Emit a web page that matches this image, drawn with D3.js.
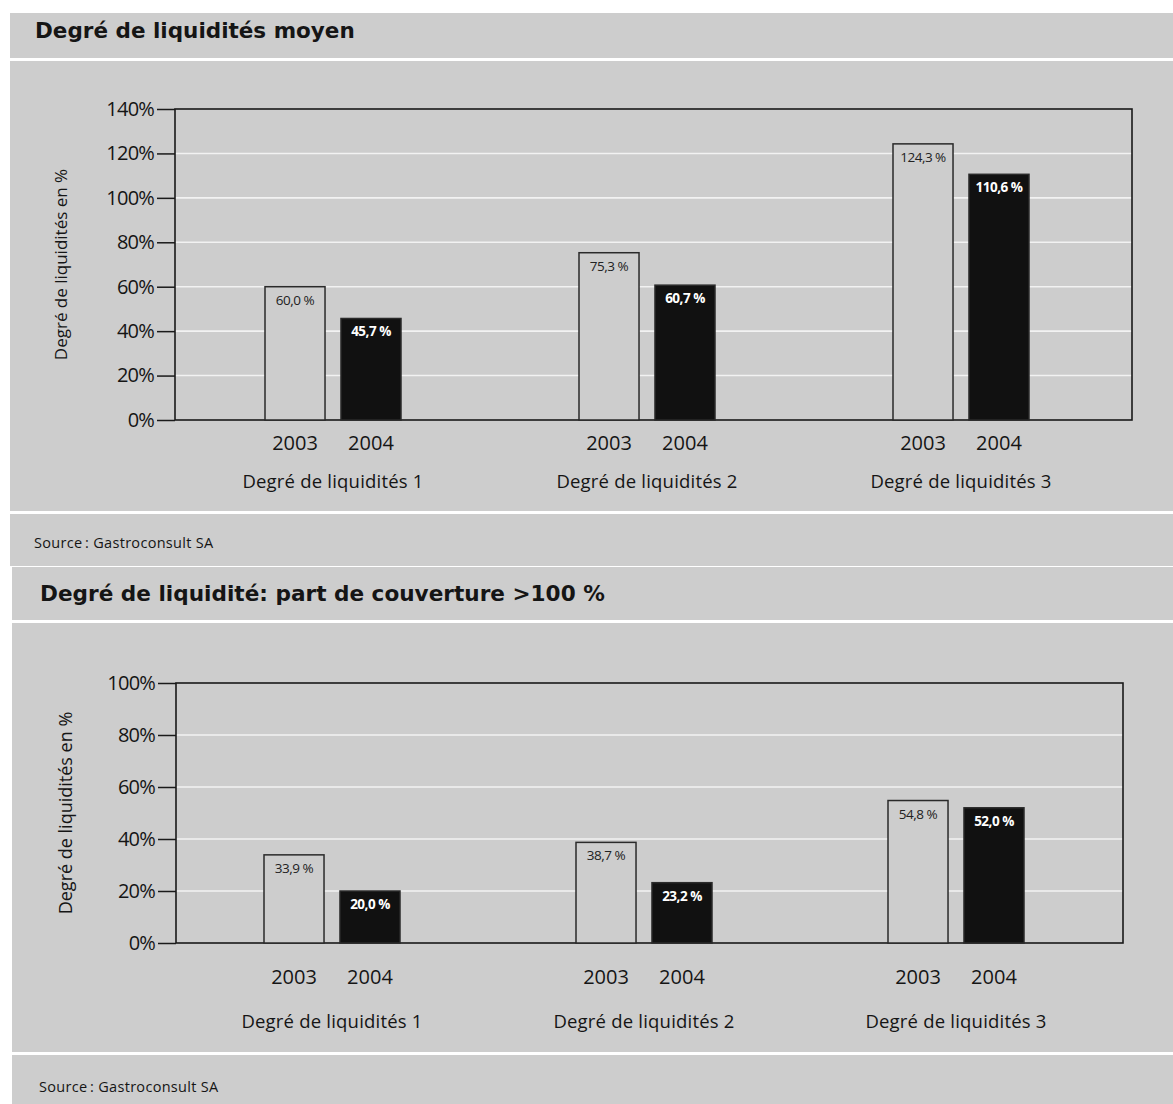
<!DOCTYPE html>
<html>
<head>
<meta charset="utf-8">
<script src="https://cdn.jsdelivr.net/npm/d3@7"></script>
<style>
	body { margin: 0; background: #fff; }
	text { font-family: "Open Sans", "DejaVu Sans", sans-serif; fill: #151515; }
</style>
</head>
<body>
<div id="chart"></div>
<script>
// categories, series and tick labels
const groups = ["Degré de liquidités 1", "Degré de liquidités 2", "Degré de liquidités 3"];
const years = ["2003", "2004"];
const moyen2003 = [60.0, 75.3, 124.3];
const moyen2004 = [45.7, 60.7, 110.6];
const couverture2003 = [33.9, 38.7, 54.8];
const couverture2004 = [20.0, 23.2, 52.0];
const moyenTicks = [0, 20, 40, 60, 80, 100, 120, 140];
const couvertureTicks = [0, 20, 40, 60, 80, 100];
const titleMoyen = "Degré de liquidités moyen";
const titleCouverture = "Degré de liquidité: part de couverture >100 %";
const yTitle = "Degré de liquidités en %";
const sourceText = "Source\u2009: Gastroconsult SA";

const GREY = "#cdcdcd";
const frLocale = d3.formatLocale({decimal: ",", thousands: " ", grouping: [3], currency: ["", ""]});
const fmtValue = d => frLocale.format(".1f")(d) + " %";

const svg = d3.select("#chart").append("svg")
	.attr("width", 1173)
	.attr("height", 1104);

// one grey panel: title band, chart band, source band
class LiquidityPanel {
	constructor(svg, layout, series, ticks, title) {
		this.svg = svg;
		this.layout = layout;
		this.series = series;
		this.ticks = ticks;
		this.title = title;
		this.initVis();
	}

	initVis() {
		let vis = this;
		let L = vis.layout;

		// background bands
		[[L.titleY, L.titleH], [L.chartY, L.chartH], [L.sourceY, L.sourceH]].forEach(b => {
			vis.svg.append("rect")
				.attr("x", L.x).attr("y", b[0])
				.attr("width", 1173 - L.x).attr("height", b[1])
				.attr("fill", GREY);
		});

		vis.svg.append("text")
			.attr("x", L.titleX).attr("y", L.titleBase)
			.attr("font-size", L.titleSize)
			.attr("font-weight", "bold")
			.style("font-family", "'DejaVu Sans', sans-serif")
			.text(vis.title);

		vis.svg.append("text")
			.attr("x", L.titleX - 1).attr("y", L.sourceBase)
			.attr("font-size", 14.5)
			.attr("letter-spacing", 0.3)
			.text(sourceText);

		vis.g = vis.svg.append("g")
			.attr("transform", "translate(" + L.left + "," + L.top + ")");
		vis.width = L.right - L.left;
		vis.height = L.bottom - L.top;

		// scales
		vis.y = d3.scaleLinear()
			.domain([0, d3.max(vis.ticks)])
			.range([vis.height, 0]);
		vis.x0 = d3.scalePoint()
			.domain(groups)
			.range(L.groupRange);
		vis.x1 = d3.scaleBand()
			.domain(years)
			.range([-68, 68])
			.paddingInner(0.21);

		vis.updateVis();
	}

	updateVis() {
		let vis = this;
		let L = vis.layout;

		// white gridlines
		vis.g.selectAll(".grid")
			.data(vis.ticks.slice(1, -1))
			.enter().append("line")
			.attr("x1", 0).attr("x2", vis.width)
			.attr("y1", d => vis.y(d)).attr("y2", d => vis.y(d))
			.attr("stroke", "#f2f2f2")
			.attr("stroke-width", 1.6);

		// y axis
		let yAxis = d3.axisLeft(vis.y)
			.tickValues(vis.ticks)
			.tickSize(18)
			.tickPadding(3)
			.tickFormat(d => d + "%");
		let ya = vis.g.append("g").call(yAxis);
		ya.select(".domain").remove();
		ya.selectAll(".tick line").attr("stroke", "#1a1a1a").attr("stroke-width", 1.5);
		ya.selectAll(".tick text")
			.attr("font-size", 20)
			.attr("letter-spacing", -0.8)
			.attr("fill", "#151515")
			.style("font-family", "'Open Sans', sans-serif");

		// frame
		vis.g.append("rect")
			.attr("width", vis.width).attr("height", vis.height)
			.attr("fill", "none")
			.attr("stroke", "#1a1a1a")
			.attr("stroke-width", 1.6);

		vis.g.append("text")
			.attr("transform", "translate(" + L.yTitleX + "," + (vis.height / 2) + ") rotate(-90)")
			.attr("text-anchor", "middle")
			.attr("font-size", L.yTitleSize)
			.text(yTitle);

		// bars
		let rows = [];
		groups.forEach((g, i) => {
			years.forEach((yr, j) => rows.push({group: g, year: yr, value: vis.series[j][i], dark: j === 1}));
		});

		let barX = d => vis.x0(d.group) + vis.x1(d.year);
		vis.g.selectAll(".bar")
			.data(rows)
			.enter().append("rect")
			.attr("class", "bar")
			.attr("x", barX)
			.attr("y", d => vis.y(d.value))
			.attr("width", vis.x1.bandwidth())
			.attr("height", d => vis.height - vis.y(d.value))
			.attr("fill", d => d.dark ? "#111" : GREY)
			.attr("stroke", "#2a2a2a")
			.attr("stroke-width", 1.5);

		vis.g.selectAll(".val")
			.data(rows)
			.enter().append("text")
			.attr("x", d => barX(d) + vis.x1.bandwidth() / 2)
			.attr("y", d => vis.y(d.value) + 18)
			.attr("text-anchor", "middle")
			.attr("font-size", 13.5)
			.attr("letter-spacing", -0.5)
			.attr("font-weight", d => d.dark ? "bold" : "normal")
			.style("fill", d => d.dark ? "#fff" : "#222")
			.text(d => fmtValue(d.value));

		// year and group labels
		vis.g.selectAll(".yr")
			.data(rows)
			.enter().append("text")
			.attr("x", d => barX(d) + vis.x1.bandwidth() / 2)
			.attr("y", vis.height + L.yearGap)
			.attr("text-anchor", "middle")
			.attr("font-size", 20)
			.text(d => d.year);

		vis.g.selectAll(".grp")
			.data(groups)
			.enter().append("text")
			.attr("x", d => vis.x0(d))
			.attr("y", vis.height + L.groupGap)
			.attr("text-anchor", "middle")
			.attr("font-size", 18.5)
			.attr("letter-spacing", 0.2)
			.text(d => d);
	}
}

new LiquidityPanel(svg, {
	x: 10, titleY: 13, titleH: 45, chartY: 61, chartH: 450, sourceY: 514, sourceH: 52,
	titleX: 35, titleBase: 38, titleSize: 21.5, sourceBase: 548,
	left: 175, right: 1132, top: 109, bottom: 420, groupRange: [158, 786],
	yTitleX: -108, yTitleSize: 17, yearGap: 30, groupGap: 68
}, [moyen2003, moyen2004], moyenTicks, titleMoyen);

new LiquidityPanel(svg, {
	x: 12, titleY: 567, titleH: 53, chartY: 623, chartH: 429, sourceY: 1055, sourceH: 49,
	titleX: 40, titleBase: 601, titleSize: 21.6, sourceBase: 1092,
	left: 176, right: 1123, top: 683, bottom: 943, groupRange: [156, 780],
	yTitleX: -104, yTitleSize: 18, yearGap: 41, groupGap: 85
}, [couverture2003, couverture2004], couvertureTicks, titleCouverture);
</script>
</body>
</html>
